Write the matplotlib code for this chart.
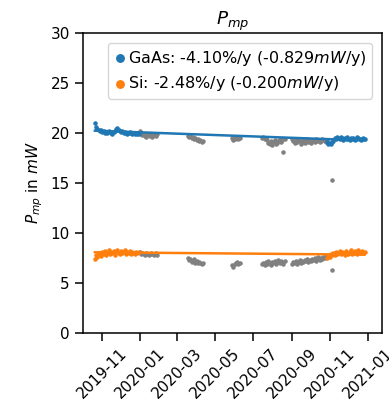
import numpy as np
import pandas as pd
from matplotlib import pyplot as plt

# Farga punkt (brukt i regresjonen)
col_a_start = "2019-10-21"
gaas_col_a = [21.0, 20.6, 20.4, 20.3, 20.2, 20.3, 20.1, 20.2, 20.0, 20.1, 20.0, 20.2,
              20.1, 20.0, 19.9, 20.1, 20.2, 20.4, 20.5, 20.3, 20.2, 20.1, 20.2, 20.0,
              20.1, 20.0, 19.9, 20.0, 20.1, 20.0, 19.9, 20.0, 19.9, 20.0, 19.9, 19.9]
si_col_a = [7.4, 7.8, 7.6, 8.0, 7.9, 7.7, 8.1, 7.9, 8.2, 7.8, 8.0, 8.3,
            7.9, 8.1, 8.0, 8.2, 7.8, 8.1, 8.3, 8.0, 7.9, 8.2, 8.0, 8.1,
            8.3, 7.9, 8.1, 8.0, 8.2, 7.9, 8.1, 8.0, 7.9, 8.1, 8.0, 8.1]

col_g_start = "2020-10-27"
gaas_col_g = [19.1, 18.9, 19.0, 18.9, 19.1, 19.2, 19.5, 19.4, 19.6, 19.5, 19.4, 19.6,
              19.5, 19.3, 19.5, 19.4, 19.6, 19.4, 19.3, 19.5, 19.4, 19.5, 19.3, 19.4,
              19.6, 19.5, 19.4, 19.3, 19.4, 19.5, 19.4]
si_col_g = [7.5, 7.7, 7.6, 7.9, 7.8, 8.0, 7.8, 8.1, 7.9, 8.0, 8.2, 7.9,
            8.1, 8.0, 7.8, 8.2, 8.0, 7.9, 8.1, 8.3, 7.9, 8.0, 8.2, 8.1,
            7.9, 8.3, 8.0, 8.1, 8.2, 8.0, 8.1]

# Grå punkt (ikkje brukt)
grey_starts = ["2020-01-01", "2020-03-18", "2020-05-28", "2020-07-15", "2020-09-01"]
gaas_grey = [
    [20.2, 20.0, 19.8, 19.9, 19.7, 19.6, 19.8, 19.9, 19.7, 19.8, 19.6, 19.9, 19.8, 19.7, 19.9],
    [19.7, 19.6, 19.7, 19.5, 19.6, 19.4, 19.5, 19.3, 19.4, 19.2, 19.3, 19.1, 19.2],
    [19.5, 19.3, 19.4, 19.6, 19.5, 19.4, 19.5],
    [19.5, 19.6, 19.4, 19.5, 19.3, 19.0, 18.9, 19.2, 18.8, 19.1, 19.3, 18.9, 19.0, 19.2,
     19.4, 19.1, 19.3, 18.1, 19.4],
    [19.4, 19.2, 19.0, 19.3, 19.1, 19.4, 19.2, 18.9, 19.1, 19.3, 19.0, 19.2, 19.4, 19.1,
     19.3, 19.0, 19.2, 19.3, 19.1, 19.4, 19.2, 19.3, 19.1, 19.2, 19.4, 19.3, 19.2, 19.1, 19.3],
]
si_grey = [
    [8.1, 7.9, 8.0, 7.9, 7.8, 8.0, 7.9, 7.8, 7.9, 8.0, 7.9, 7.8, 7.9, 8.0, 7.8],
    [7.5, 7.3, 7.4, 7.1, 7.2, 7.4, 7.0, 7.2, 7.0, 7.1, 7.0, 6.9, 7.0],
    [6.8, 6.6, 6.9, 7.0, 7.1, 6.9, 7.0],
    [6.9, 7.0, 6.8, 7.1, 6.9, 7.2, 7.0, 6.8, 7.1, 7.0, 7.2, 6.9, 7.1, 7.3, 7.0, 7.2, 7.1,
     6.9, 7.2],
    [6.9, 7.1, 7.0, 7.2, 6.9, 7.1, 7.3, 7.0, 7.2, 7.1, 7.3, 7.2, 7.4, 7.1, 7.3, 7.2, 7.4,
     7.3, 7.5, 7.2, 7.4, 7.6, 7.3, 7.5, 7.4, 7.6, 7.5, 7.7, 7.6],
]
outlier_date = "2020-11-04"
gaas_outlier = 15.3
si_outlier = 6.3

# Regresjonslinjer
gaas_fit_start = 20.25
gaas_slope = -0.829  # mW/år
si_fit_start = 8.05
si_slope = -0.200

gaas_label = "GaAs: -4.10%/y (-0.829$mW$/y)"
si_label = "Si: -2.48%/y (-0.200$mW$/y)"

# Bygg datoar
t_a = pd.date_range(col_a_start, periods=len(gaas_col_a), freq="2D")
t_g = pd.date_range(col_g_start, periods=len(gaas_col_g), freq="2D")
t_col = t_a.append(t_g)
gaas_col = np.array(gaas_col_a + gaas_col_g)
si_col = np.array(si_col_a + si_col_g)

t_grey = pd.DatetimeIndex([pd.Timestamp(outlier_date)])
gaas_g = [gaas_outlier]
si_g = [si_outlier]
for start, g, s in zip(grey_starts, gaas_grey, si_grey):
    t_grey = t_grey.append(pd.date_range(start, periods=len(g), freq="2D"))
    gaas_g += g
    si_g += s

t_line = [t_col[0], t_col[-1]]
years = (t_col[-1] - t_col[0]).days / 365.25

plt.rcParams["font.size"] = 11
plt.rcParams["axes.linewidth"] = 1.1
plt.rcParams["xtick.major.size"] = 6
plt.rcParams["ytick.major.size"] = 6
plt.rcParams["xtick.major.width"] = 1.1
plt.rcParams["ytick.major.width"] = 1.1

fig = plt.figure(figsize=(3.89, 4.13), dpi=100)
ax = fig.add_axes([0.2134, 0.1949, 0.7686, 0.724])

ax.scatter(t_grey, gaas_g, s=5, color="grey")
ax.scatter(t_grey, si_g, s=5, color="grey")
ax.scatter(t_col, gaas_col, s=5, color="C0", label=gaas_label)
ax.scatter(t_col, si_col, s=5, color="C1", label=si_label)
ax.plot(t_line, [gaas_fit_start, gaas_fit_start + gaas_slope * years], color="C0", lw=1.8)
ax.plot(t_line, [si_fit_start, si_fit_start + si_slope * years], color="C1", lw=1.8)

ax.set_ylim(0, 30)
ax.set_xlim(pd.Timestamp("2019-10-02"), pd.Timestamp("2021-01-23"))
ax.set_title("$P_{mp}$")
ax.set_ylabel("$P_{mp}$ in $mW$")
ax.legend(loc="upper right", markerscale=2.4, fontsize=11.5, handlelength=0.8,
          handletextpad=0.1, borderaxespad=0.6, borderpad=0.35, labelspacing=0.4)
plt.setp(ax.get_xticklabels(), rotation=45)

fig.savefig("out.png")
